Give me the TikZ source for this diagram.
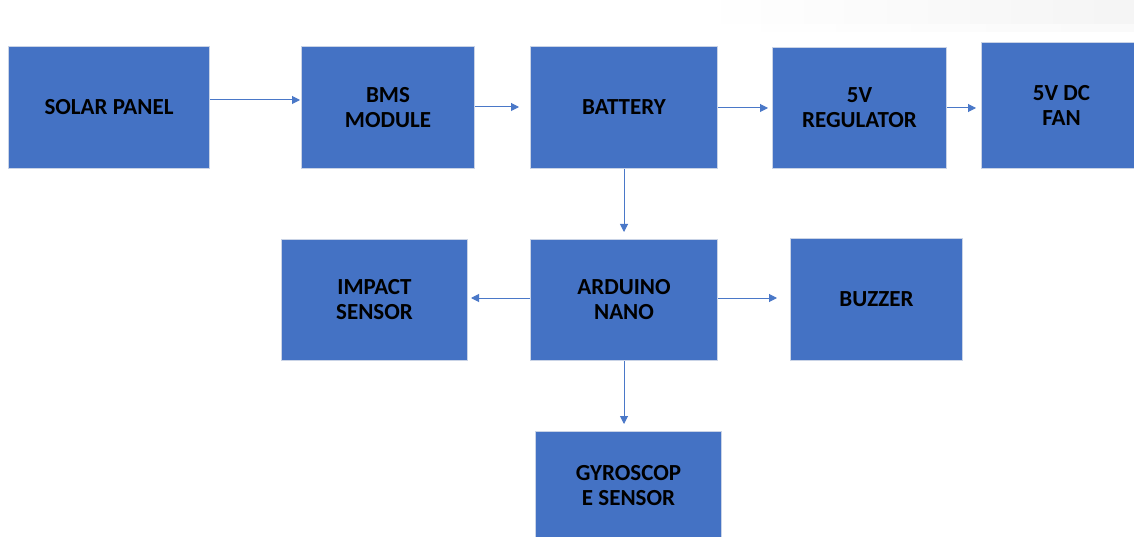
\documentclass[tikz,border=0pt]{standalone}
\usepackage{fontspec}
\setmainfont{Carlito}
\usetikzlibrary{arrows.meta,fadings}
\definecolor{boxblue}{HTML}{4472C4}
\definecolor{boxedge}{HTML}{C9D3E6}
\definecolor{arrblue}{HTML}{4A78C8}
\begin{document}
\begin{tikzpicture}[x=1pt,y=-1pt,
  blk/.style={draw=boxedge, line width=1pt, fill=boxblue, anchor=north west, inner sep=0pt,
    align=center, text=black, font=\fontsize{23}{25}\selectfont\bfseries},
  arr/.style={draw=arrblue, line width=1pt, -{Triangle[length=8pt,width=8pt]}}]
\useasboundingbox (0,0) rectangle (1134,537);
\fill[white] (0,0) rectangle (1134,537);
\fill[black!4, path fading=west] (720,0) rectangle (1134,24);
\fill[black!2, path fading=west] (760,24) rectangle (1134,32);
\node[blk, minimum width=201pt, minimum height=122pt] (solar) at (8,46) {SOLAR PANEL};
\node[blk, minimum width=173pt, minimum height=122pt] (bms) at (301,46) {BMS\\MODULE};
\node[blk, minimum width=187pt, minimum height=122pt] (bat) at (530,46) {BATTERY};
\node[blk, minimum width=174pt, minimum height=121pt] (reg) at (772,47) {5V\\REGULATOR};
\node[blk, minimum width=160pt, minimum height=126pt] (fan) at (981,42) {5V DC\\FAN};
\node[blk, minimum width=186pt, minimum height=121pt] (imp) at (281,239) {IMPACT\\SENSOR};
\node[blk, minimum width=187pt, minimum height=121pt] (ard) at (530,239) {ARDUINO\\NANO};
\node[blk, minimum width=172pt, minimum height=122pt] (buz) at (790,238) {BUZZER};
\node[blk, minimum width=186pt, minimum height=108pt] (gyr) at (535,431) {GYROSCOP\\E SENSOR};
\draw[arr, shorten >=1pt] (solar.east |- 0,100) -- (bms.west |- 0,100);
\draw[arr, shorten >=11pt] (bms.east |- 0,107) -- (bat.west |- 0,107);
\draw[arr, shorten >=4pt] (bat.east |- 0,108) -- (reg.west |- 0,108);
\draw[arr, shorten >=5pt] (reg.east |- 0,108) -- (fan.west |- 0,108);
\draw[arr, shorten >=7pt] (bat.south -| 624,0) -- (ard.north -| 624,0);
\draw[arr, shorten >=3pt] (ard.west |- 0,298) -- (imp.east |- 0,298);
\draw[arr, shorten >=13pt] (ard.east |- 0,298) -- (buz.west |- 0,298);
\draw[arr, shorten >=7pt] (ard.south -| 624,0) -- (gyr.north -| 624,0);
\end{tikzpicture}
\end{document}
